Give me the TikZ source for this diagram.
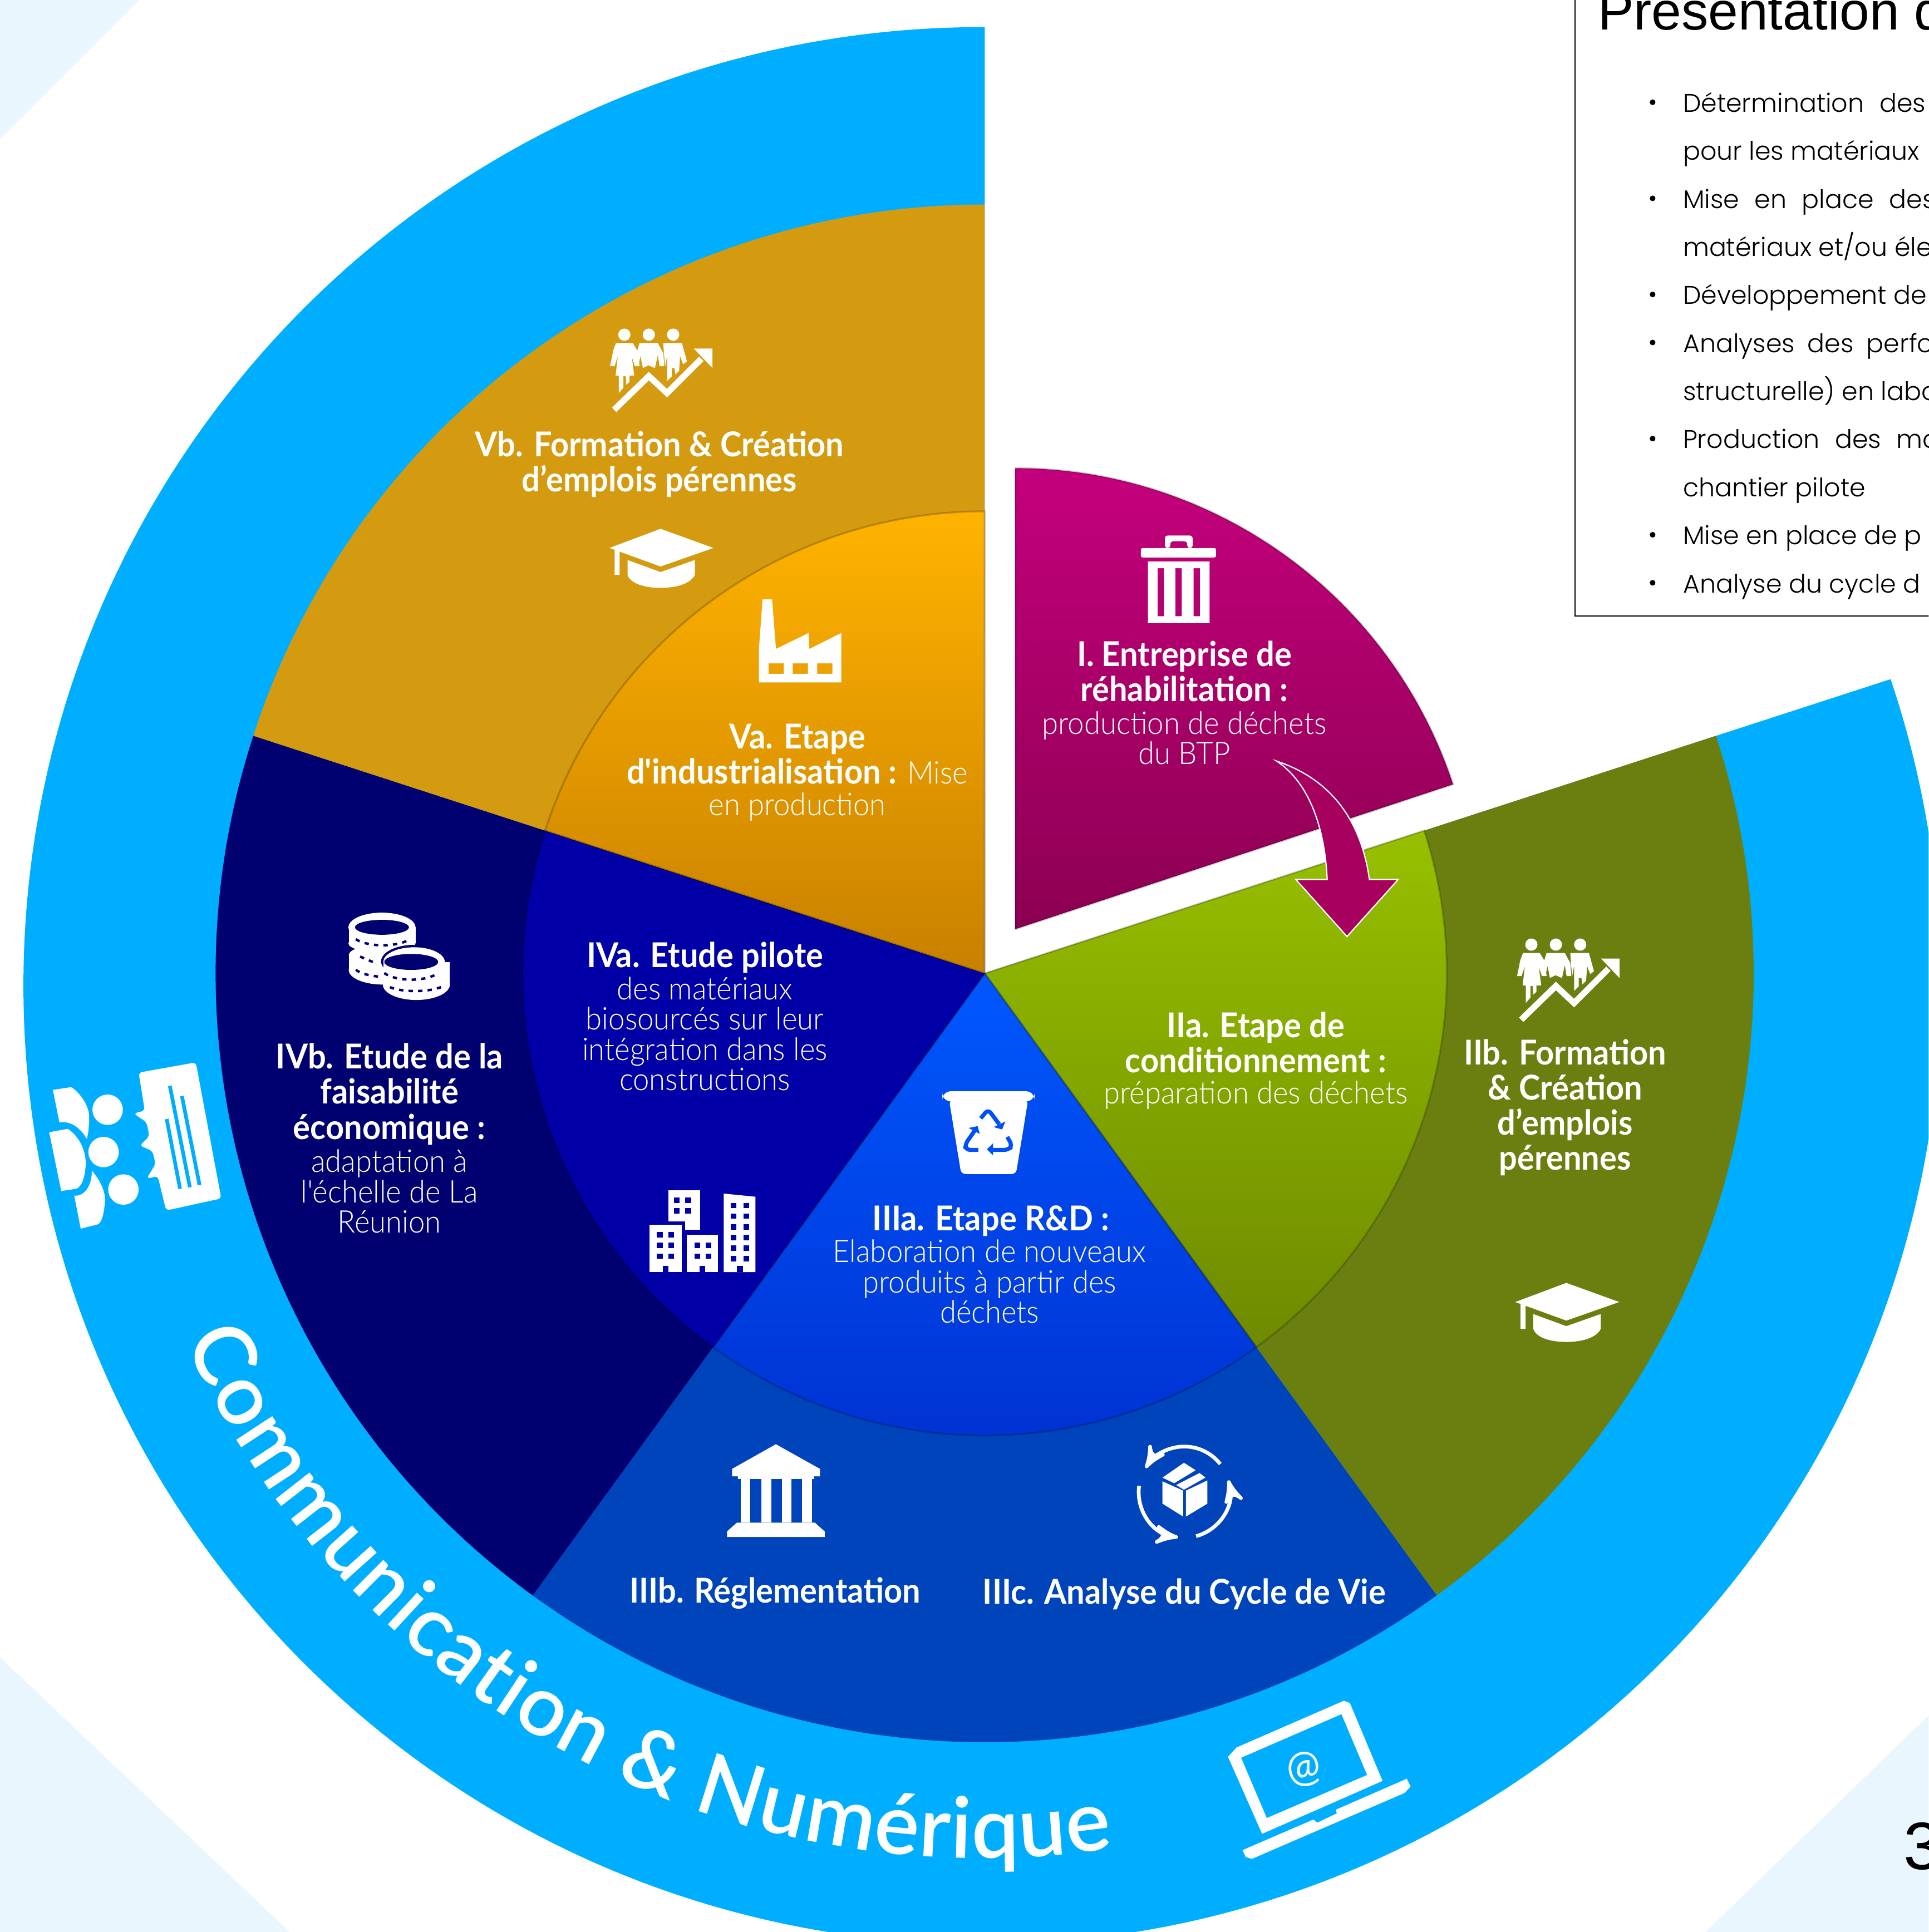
\documentclass[tikz,border=0pt]{standalone}
\usepackage{fontspec}
\usetikzlibrary{arrows, decorations.text}
\newfontfamily\ttlfont[FakeStretch=.94]{Lato}
\newfontfamily\subfont[FakeStretch=.94]{Lato Light}
\newfontfamily\ringfam{Lato Semibold}
\newfontfamily\listfont{Poppins Light}
\newfontfamily\boxfont{Liberation Sans}
\definecolor{ringblue}{HTML}{00AEFF}
\definecolor{paleblue}{HTML}{E9F6FE}
\definecolor{goldout}{HTML}{D49A10}
\definecolor{oliveout}{HTML}{6A7F10}
\definecolor{navyout}{HTML}{000070}
\definecolor{royalout}{HTML}{0044BB}
\definecolor{navyin}{HTML}{0000A6}
\definecolor{bluein}{HTML}{0050F8}
\definecolor{arrowmag}{HTML}{A8005F}
\definecolor{gtop}{HTML}{97C000}\definecolor{gmid}{HTML}{8FB400}\definecolor{gbot}{HTML}{6E8A00}
\definecolor{btop}{HTML}{0058FF}\definecolor{bmid}{HTML}{004CF0}\definecolor{bbot}{HTML}{0030D0}
\definecolor{otop}{HTML}{FFB300}\definecolor{omid}{HTML}{F4A900}\definecolor{obot}{HTML}{C88000}
\definecolor{mtop}{HTML}{C4007C}\definecolor{mmid}{HTML}{B00068}\definecolor{mbot}{HTML}{8C0052}
\tikzset{
  >=stealth',
  ttl/.style={text=white, align=center, inner sep=0pt, font=\ttlfont\bfseries\fontsize{7.9}{8.1}\selectfont},
  sub/.style={text=white, align=center, inner sep=0pt, font=\subfont\fontsize{7.2}{7}\selectfont},
  listline/.style={anchor=base west, inner sep=0pt, font=\listfont\fontsize{5.9}{7}\selectfont},
  rim/.style={draw=black, draw opacity=.2, line width=.15mm},
  icon/.style={fill=white},
  pics/capicon/.style={code={
    \begin{scope}[scale=.1506, shift={(-560,-1330)}]
      \fill[icon] (285,1275) -- (560,1172) -- (845,1275) -- (560,1375) -- cycle;
      \fill[icon] (313,1285) -- (340,1295) -- (340,1420) -- (313,1420) -- cycle;
      \fill[icon] (382,1340) -- (560,1405) -- (745,1340) -- (745,1420) .. controls (720,1470) and (640,1490) .. (560,1490) .. controls (480,1490) and (400,1470) .. (382,1420) -- cycle;
    \end{scope}
  }},
  pics/crowdicon/.style={code={
    \begin{scope}[scale=.1506, shift={(-560,-320)}]
      \fill[icon] (365,125) circle (33) (497,125) circle (33) (628,125) circle (33);
      \fill[icon] (320,170) -- (410,170) -- (437,215) -- (447,295) -- (422,295) -- (405,245) -- (418,345) -- (392,345) -- (392,380) -- (375,395) -- (372,348) -- (360,348) -- (360,410) -- (335,440) -- (335,345) -- (318,345) -- (330,240) -- (312,295) -- (288,295) -- (305,210) -- cycle;
      \fill[icon] (447,170) -- (545,170) -- (575,225) -- (580,295) -- (555,295) -- (545,235) -- (530,305) -- (495,290) -- (465,305) -- (452,240) -- (440,295) -- (430,225) -- cycle;
      \fill[icon] (575,170) -- (675,170) -- (702,268) -- (682,285) -- (665,240) -- (660,320) -- (640,340) -- (635,305) -- (620,305) -- (620,350) -- (595,375) -- (595,240) -- (585,295) -- (578,225) -- cycle;
      \draw[white, line width=.5mm] (310,530) -- (497,348) -- (595,440) -- (780,255);
      \fill[icon] (740,200) -- (840,200) -- (840,305) -- cycle;
    \end{scope}
  }},
}

\begin{document}
\begin{tikzpicture}[x=0.1mm, y=0.1mm]
	\path[use as bounding box, clip] (0,0) rectangle (1565,1568);
	\fill[white] (0,0) rectangle (1565,1568);

	\coordinate (ctr) at (799,778);
	\coordinate (ringc) at (797,768);

	% pale corners
	\fill[paleblue] (0,1568) -- (113,1568) -- (0,1455) -- cycle;
	\fill[paleblue] (0,223) -- (235,0) -- (0,0) -- cycle;
	\fill[paleblue] (1565,176) -- (1384,0) -- (1565,0) -- cycle;

	% blue ring
	\fill[ringblue] (ctr) -- ([shift={(89.85:778)}]ringc) arc[start angle=89.85, end angle=378.65, radius=778] -- cycle;

	% outer sectors
	\fill[oliveout] (ctr) -- ++(18:624) arc[start angle=18, end angle=-54, radius=624] -- cycle;
	\fill[royalout] (ctr) -- ++(-54:624) arc[start angle=-54, end angle=-126, radius=624] -- cycle;
	\fill[navyout] (ctr) -- ++(234:624) arc[start angle=234, end angle=162, radius=624] -- cycle;
	\fill[goldout] (ctr) -- ++(162:624) arc[start angle=162, end angle=90, radius=624] -- cycle;

	% inner sectors
	\path[rim, top color=gtop, middle color=gmid, bottom color=gbot] (ctr) -- ++(18:375) arc[start angle=18, end angle=-54, radius=375] -- cycle;
	\path[rim, top color=btop, middle color=bmid, bottom color=bbot] (ctr) -- ++(-54:375) arc[start angle=-54, end angle=-126, radius=375] -- cycle;
	\path[rim, fill=navyin] (ctr) -- ++(234:375) arc[start angle=234, end angle=162, radius=375] -- cycle;
	\path[rim, top color=otop, middle color=omid, bottom color=obot] (ctr) -- ++(162:375) arc[start angle=162, end angle=90, radius=375] -- cycle;

	% detached sector
	\coordinate (ctrone) at (824,814);
	\path[rim, top color=mtop, middle color=mmid, bottom color=mbot] (ctrone) -- ++(90:374) arc[start angle=90, end angle=18.3, radius=374] -- cycle;

	% ring text
	\path[decorate, decoration={text along path, text align={fit to path},
		text={|\ringfam\fontsize{19.5}{20}\selectfont\color{white}|Communication {\&} Numérique}}]
		([shift={(204:708)}]ringc) arc[start angle=204, end angle=278.6, radius=708];

	% cycle arrows of the box icon
	\coordinate (cyc) at (961,357);
	\draw[white, line width=.3mm, ->] ([shift={(38:37)}]cyc) arc[start angle=38, end angle=148, radius=37];
	\draw[white, line width=.3mm, ->] ([shift={(172:37)}]cyc) arc[start angle=172, end angle=262, radius=37];
	\draw[white, line width=.3mm, ->] ([shift={(-75:37)}]cyc) arc[start angle=-75, end angle=15, radius=37];

	\begin{scope}[shift={(0,1568)}, yscale=-1]
		% text box
		\draw[black, fill=white, line width=.1mm] (1278,-20) rectangle (1600,500);
		\node[anchor=base west, inner sep=0pt, font=\boxfont\fontsize{12.4}{13}\selectfont] (head) at (1296,24) {Présentation d};
		\foreach \ypos in {91,169,247,286,364,442,481}
			\fill[black] (1341,\ypos-8) circle (2.3);
		\node[listline] (la) at (1365,91) {Détermination\hspace{.6em}des};
		\node[listline] (lb) at (1365,130) {pour les matériaux};
		\node[listline] (lc) at (1365,169) {Mise\hspace{.6em}en\hspace{.6em}place\hspace{.6em}des};
		\node[listline] (ld) at (1365,208) {matériaux et/ou éle};
		\node[listline] (le) at (1365,247) {Développement de};
		\node[listline] (lf) at (1365,286) {Analyses\hspace{.5em}des\hspace{.5em}perfor};
		\node[listline] (lg) at (1365,325) {structurelle) en labo};
		\node[listline] (lh) at (1365,364) {Production\hspace{.6em}des\hspace{.6em}mo};
		\node[listline] (li) at (1365,403) {chantier pilote};
		\node[listline] (lj) at (1365,442) {Mise en place de p};
		\node[listline] (lk) at (1365,481) {Analyse du cycle d};
		\node[anchor=base west, inner sep=0pt, font=\boxfont\fontsize{15.5}{16}\selectfont] (pagenum) at (1544,1517) {3};

		% curved arrow
		\begin{scope}[shift={(813,361.3)}, xscale=.2593, yscale=.2737]
			\draw[white, fill=arrowmag, line width=.1mm] (860,937) .. controls (1060,1000) and (1130,1150) .. (1150,1288) -- (1240,1288) -- (1080,1457) -- (920,1288) -- (1018,1288) .. controls (1010,1130) and (960,1000) .. (860,937) -- cycle;
			% bin
			\fill[icon, rounded corners=.4pt] (435,305) rectangle (670,333);
			\fill[icon, rounded corners=.6pt] (510,305) -- (510,268) -- (597,268) -- (597,305) -- (580,305) -- (580,285) -- (527,285) -- (527,305) -- cycle;
			\fill[icon, even odd rule] (457,345) rectangle (650,528)
				(487,365) rectangle (507,507) (543,365) rectangle (563,507) (600,365) rectangle (620,507);
		\end{scope}

		% people and caps
		\path (536,301) pic[transform shape] {crowdicon};
		\path (1272,796) pic[transform shape] {crowdicon};
		\path (536,453) pic[transform shape] {capicon};
		\path (1271,1065) pic[transform shape] {capicon};

		% factory
		\begin{scope}[shift={(451.7,225.9)}, xscale=.288, yscale=.2593]
			\fill[icon, even odd rule] (580,1005) -- (607,1005) -- (618,1160) -- (710,1110) -- (712,1160) -- (802,1110) -- (802,1265) -- (570,1265) -- (570,1160) -- cycle
				(597,1205) rectangle (640,1238) (665,1205) rectangle (708,1238) (734,1205) rectangle (777,1238);
		\end{scope}

		% coins and buildings
		\begin{scope}[shift={(248.4,713.7)}, xscale=.2305, yscale=.2161]
			\fill[icon] (267,180) ellipse (118 and 55);
			\fill[icon] (150,180) rectangle (385,240);
			\fill[icon] (267,240) ellipse (118 and 35);
			\fill[icon] (150,285) rectangle (400,340);
			\fill[icon] (270,340) ellipse (120 and 55);
			\fill[icon] (270,285) ellipse (120 and 40);
			\fill[navyout] (267,180) ellipse (95 and 28);
			\draw[navyout, line width=.2mm, dash pattern=on 1pt off 1.2pt] (175,225) .. controls (220,255) and (320,255) .. (365,225);
			\draw[navyout, line width=.2mm, dash pattern=on 1pt off 1.2pt] (175,340) .. controls (200,358) and (230,362) .. (262,366);
			\draw[navyout, line width=.2mm, dash pattern=on 1pt off 1.2pt] (190,290) -- (245,315);
			\fill[navyout] (380,308) ellipse (116 and 62);
			\fill[icon] (380,310) ellipse (108 and 55);
			\fill[icon] (272,310) rectangle (505,395);
			\fill[icon] (388,395) ellipse (118 and 58);
			\fill[navyout] (370,310) ellipse (95 and 30);
			\draw[navyout, line width=.2mm, dash pattern=on 1pt off 1.2pt] (275,352) .. controls (320,385) and (420,385) .. (465,352);
			\draw[navyout, line width=.2mm, dash pattern=on 1pt off 1.2pt] (295,405) .. controls (340,425) and (440,425) .. (485,400);

			\fill[icon] (1275,1168) rectangle (1388,1315);
			\fill[navyin] (1195,1285) rectangle (1335,1490);
			\fill[icon] (1208,1298) rectangle (1322,1475);
			\fill[icon] (1340,1335) rectangle (1450,1475);
			\fill[icon] (1470,1180) -- (1582,1192) -- (1582,1475) -- (1470,1475) -- cycle;
			\fill[navyin] (1255,1452) rectangle (1275,1475);
			\fill[navyin] (1385,1452) rectangle (1405,1475);
			\fill[navyin] (1517,1452) rectangle (1537,1475);
			\foreach \xpos in {1305,1345}
				\foreach \ypos in {1205,1245}
					\fill[navyin] (\xpos-10,\ypos-10) rectangle (\xpos+10,\ypos+10);
			\foreach \xpos in {1245,1285}
				\foreach \ypos in {1335,1375,1415}
					\fill[navyin] (\xpos-10,\ypos-10) rectangle (\xpos+10,\ypos+10);
			\foreach \xpos in {1377,1417}
				\foreach \ypos in {1375,1415}
					\fill[navyin] (\xpos-10,\ypos-10) rectangle (\xpos+10,\ypos+10);
			\foreach \xpos in {1505,1550}
				\foreach \ypos in {1225,1265,1305,1345,1385,1425}
					\fill[navyin] (\xpos-10,\ypos-10) rectangle (\xpos+10,\ypos+10);
		\end{scope}

		% recycling bin
		\begin{scope}[shift={(758.9,871.8)}, scale=.1506]
			\fill[icon, rounded corners=2pt] (38,92) rectangle (535,147);
			\fill[icon, rounded corners=1pt] (75,140) -- (500,140) -- (435,538) -- (140,538) -- cycle;
			\draw[bluein, line width=.33mm, rounded corners=1pt] (245,238) -- (285,190) -- (345,270);
			\fill[bluein] (360,298) -- (378,255) -- (315,285) -- cycle;
			\draw[bluein, line width=.33mm, rounded corners=1pt] (232,408) -- (165,408) -- (160,380) -- (212,305);
			\fill[bluein] (228,280) -- (180,290) -- (240,322) -- cycle;
			\draw[bluein, line width=.33mm, rounded corners=1pt] (388,338) -- (415,385) -- (395,408) -- (300,408);
			\fill[bluein] (278,405) -- (312,372) -- (312,438) -- cycle;
		\end{scope}

		% bank and box
		\begin{scope}[shift={(564.6,1151.8)}, xscale=.3169, yscale=.1506]
			\fill[icon] (205,135) -- (318,268) -- (318,308) -- (303,308) -- (303,322) -- (108,322) -- (108,308) -- (93,308) -- (93,268) -- cycle;
			\fill[icon] (115,322) rectangle (140,558);
			\fill[icon] (168,322) rectangle (193,558);
			\fill[icon] (220,322) rectangle (245,558);
			\fill[icon] (272,322) rectangle (297,558);
			\fill[icon] (105,558) -- (305,558) -- (330,605) -- (330,635) -- (80,635) -- (80,605) -- cycle;
			\fill[icon] (1195,335) -- (1248,385) -- (1248,525) -- (1195,455) -- cycle;
			\fill[icon] (1255,385) -- (1310,330) -- (1310,455) -- (1255,525) -- cycle;
			\fill[icon] (1195,315) -- (1250,235) -- (1280,275) -- (1225,345) -- cycle;
			\fill[icon] (1290,290) -- (1305,315) -- (1250,380) -- (1230,355) -- cycle;
		\end{scope}

		% megaphone
		\begin{scope}[shift={(22.6,835.6)}, scale=.1506]
			\fill[icon, rounded corners=.8pt] (597,232) -- (905,177) -- (1042,910) -- (745,975) -- (700,790) -- (640,803) -- (688,725) -- (672,655) -- (603,625) -- (655,575) -- (640,500) -- (570,452) -- (630,437) -- cycle;
			\draw[ringblue, line width=.3mm] (765,303) -- (873,850) (748,482) -- (820,858) (830,358) -- (925,838);
			\fill[icon] (430,432) circle (82) (408,660) circle (82) (515,862) circle (82);
			\fill[icon] (135,325) -- (235,310) .. controls (290,350) and (335,420) .. (330,480) .. controls (330,530) and (325,560) .. (318,590) .. controls (290,540) and (240,490) .. (170,500) -- cycle;
			\fill[icon] (115,553) -- (215,535) .. controls (270,570) and (310,640) .. (312,720) .. controls (310,790) and (290,850) .. (260,858) -- (180,870) -- cycle;
			\fill[icon] (345,760) .. controls (395,820) and (420,880) .. (415,930) .. controls (410,1000) and (395,1045) .. (375,1050) -- (285,1073) -- (250,895) .. controls (300,900) and (345,850) .. (345,760) -- cycle;
		\end{scope}

		% laptop
		\begin{scope}[shift={(971.1,1346)}, xscale=.3788, yscale=.1506]
			\fill[icon, even odd rule] (315,228) -- (328,240) -- (398,660) -- (140,945) -- (67,530) -- (85,480) -- cycle
				(310,300) -- (365,628) -- (150,860) -- (95,535) -- cycle;
			\fill[icon] (450,648) -- (458,690) -- (445,725) -- (118,1080) -- (105,1070) -- (98,1033) -- (250,868) -- (258,885) -- (300,835) -- (298,815) -- cycle;
		\end{scope}
		\node[text=white, inner sep=0pt, rotate=12, font=\ttlfont\fontsize{10}{10}\selectfont] (atsign) at (1058,1436) {@};

		% labels
		\node[ttl] (vbt) at (535,377) {Vb. Formation \& Création\\d’emplois pérennes};
		\node[ttl] (vat) at (647,612) {Va. Etape\\d'industrialisation : {\subfont\mdseries\fontsize{7.2}{7}\selectfont Mise}};
		\node[sub] (vas) at (647,655) {en production};
		\node[ttl] (it) at (961,545) {I. Entreprise de\\réhabilitation :};
		\node[sub] (is) at (961,599) {production de déchets\\du BTP};
		\node[ttl] (iiat) at (1019,846) {IIa. Etape de\\conditionnement :};
		\node[sub] (iias) at (1019,889) {préparation des déchets};
		\node[ttl] (iibt) at (1270,899) {IIb. Formation\\\& Création\\d’emplois\\pérennes};
		\node[ttl] (iiiat) at (804,991) {IIIa. Etape R\&D :};
		\node[sub] (iiias) at (803,1040) {Elaboration de nouveaux\\produits à partir des\\déchets};
		\node[ttl] (iiibt) at (629,1293) {IIIb. Réglementation};
		\node[ttl] (iiict) at (961,1294) {IIIc. Analyse du Cycle de Vie};
		\node[ttl] (ivat) at (572,777) {IVa. Etude pilote};
		\node[sub] (ivas) at (572,839) {des matériaux\\biosourcés sur leur\\intégration dans les\\constructions};
		\node[ttl] (ivbt) at (316,888) {IVb. Etude de la\\faisabilité\\économique :};
		\node[sub] (ivbs) at (316,967) {adaptation à\\l'échelle de La\\Réunion};
	\end{scope}
\end{tikzpicture}
\end{document}
